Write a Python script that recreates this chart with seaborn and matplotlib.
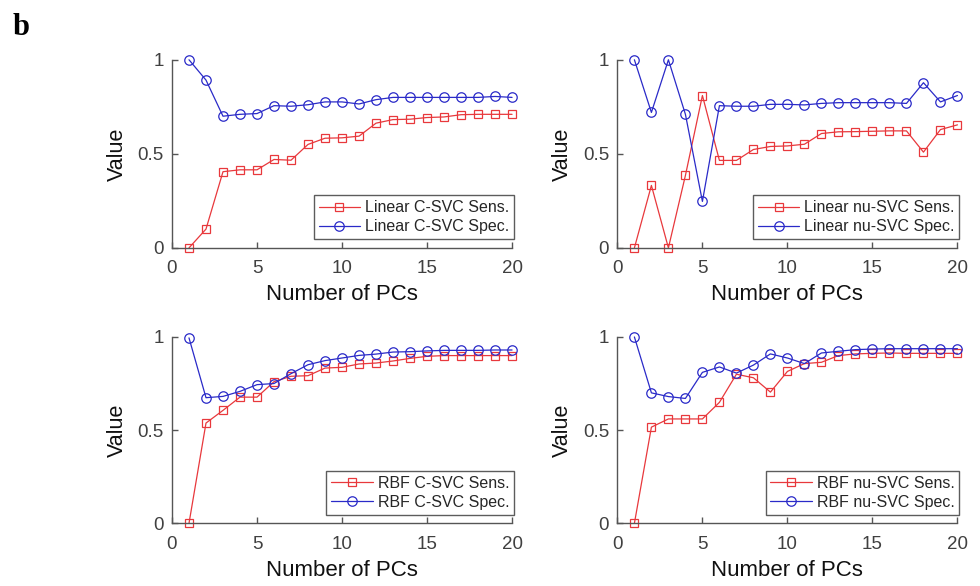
import numpy as np
import pandas as pd
import seaborn as sns
import matplotlib
matplotlib.use("Agg")
import matplotlib.pyplot as plt

# Number of principal components (x axis)
pcs = list(range(1, 21))

# Linear C-SVC
lin_c_sens = [0.00, 0.10, 0.405, 0.415, 0.415, 0.47, 0.466, 0.55, 0.583, 0.585,
              0.594, 0.663, 0.682, 0.684, 0.693, 0.696, 0.708, 0.71, 0.71, 0.71]
lin_c_spec = [1.00, 0.892, 0.70, 0.71, 0.714, 0.756, 0.753, 0.761, 0.776, 0.776,
              0.765, 0.788, 0.80, 0.80, 0.80, 0.80, 0.80, 0.80, 0.805, 0.80]

# Linear nu-SVC
lin_nu_sens = [0.00, 0.332, 0.00, 0.385, 0.81, 0.465, 0.465, 0.523, 0.539, 0.542,
               0.551, 0.608, 0.617, 0.618, 0.62, 0.622, 0.622, 0.509, 0.629, 0.654]
lin_nu_spec = [1.00, 0.72, 1.00, 0.71, 0.247, 0.756, 0.753, 0.753, 0.763, 0.763,
               0.76, 0.768, 0.772, 0.772, 0.772, 0.772, 0.768, 0.878, 0.776, 0.81]

# RBF C-SVC
rbf_c_sens = [0.00, 0.538, 0.606, 0.677, 0.677, 0.76, 0.789, 0.792, 0.833, 0.837,
              0.855, 0.86, 0.871, 0.885, 0.896, 0.90, 0.90, 0.90, 0.90, 0.90]
rbf_c_spec = [0.995, 0.674, 0.681, 0.708, 0.744, 0.75, 0.803, 0.851, 0.873, 0.887,
              0.901, 0.908, 0.919, 0.921, 0.925, 0.928, 0.928, 0.928, 0.93, 0.93]

# RBF nu-SVC
rbf_nu_sens = [0.00, 0.516, 0.56, 0.56, 0.56, 0.649, 0.80, 0.781, 0.704, 0.815,
               0.857, 0.864, 0.90, 0.909, 0.912, 0.914, 0.912, 0.912, 0.912, 0.912]
rbf_nu_spec = [1.00, 0.70, 0.68, 0.67, 0.81, 0.839, 0.806, 0.849, 0.909, 0.887,
               0.857, 0.914, 0.923, 0.932, 0.935, 0.937, 0.937, 0.937, 0.937, 0.937]

panels = [
    ("Linear C-SVC", lin_c_sens, lin_c_spec),
    ("Linear nu-SVC", lin_nu_sens, lin_nu_spec),
    ("RBF C-SVC", rbf_c_sens, rbf_c_spec),
    ("RBF nu-SVC", rbf_nu_sens, rbf_nu_spec),
]

RED = "#e8383c"
BLUE = "#2a2ac8"

sns.set_theme(style="white")
plt.rcParams["font.family"] = ["Liberation Sans", "DejaVu Sans"]

fig = plt.figure(figsize=(9.8, 5.86), dpi=100, facecolor="white")

# axes rectangles (figure fractions)
rects = [
    [0.1755, 0.577, 0.347, 0.321],
    [0.630, 0.577, 0.347, 0.321],
    [0.1755, 0.107, 0.347, 0.318],
    [0.630, 0.107, 0.347, 0.318],
]

for (name, sens, spec), rect in zip(panels, rects):
    ax = fig.add_axes(rect)
    df = pd.DataFrame({"pcs": pcs, "sens": sens, "spec": spec})

    sns.lineplot(data=df, x="pcs", y="sens", ax=ax, color=RED, lw=0.9,
                 marker="s", markersize=5.2, markerfacecolor="none",
                 markeredgecolor=RED, markeredgewidth=0.9, clip_on=False,
                 label=f"{name} Sens.")
    sns.lineplot(data=df, x="pcs", y="spec", ax=ax, color=BLUE, lw=0.9,
                 marker="o", markersize=6.8, markerfacecolor="none",
                 markeredgecolor=BLUE, markeredgewidth=0.9, clip_on=False,
                 label=f"{name} Spec.")

    ax.set_xlim(0, 20)
    ax.set_ylim(0, 1)
    ax.set_xticks([0, 5, 10, 15, 20])
    ax.set_yticks([0, 0.5, 1])
    ax.set_yticklabels(["0", "0.5", "1"])
    ax.set_xlabel("Number of PCs", fontsize=16, color="#111111", labelpad=5)
    ax.set_ylabel("Value", fontsize=15.5, color="#111111", labelpad=7)

    for side in ["top", "right"]:
        ax.spines[side].set_visible(False)
    for side in ["left", "bottom"]:
        ax.spines[side].set_color("#555555")
        ax.spines[side].set_linewidth(1.0)
    ax.tick_params(axis="both", direction="in", length=4, width=1.0,
                   bottom=True, left=True,
                   color="#555555", labelcolor="#404040", labelsize=13.5)
    ax.tick_params(axis="x", pad=9)
    ax.tick_params(axis="y", pad=6)

    leg = ax.legend(loc="lower right", bbox_to_anchor=(1.015, 0.03),
                    fontsize=11.5, frameon=True, fancybox=False,
                    handlelength=2.6, handletextpad=0.3, borderpad=0.3,
                    labelspacing=0.25, borderaxespad=0.2)
    leg.get_frame().set_edgecolor("#333333")
    leg.get_frame().set_linewidth(1.0)
    leg.set_zorder(5)

fig.text(0.013, 0.94, "b", fontsize=22, fontweight="bold",
         family="Liberation Serif", color="black")

plt.savefig("out.png", dpi=100, facecolor="white")
